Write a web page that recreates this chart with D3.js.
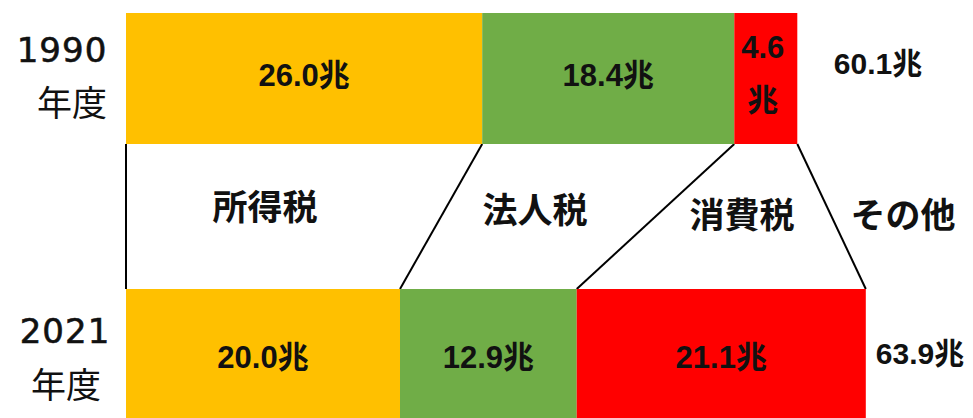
<!DOCTYPE html>
<html><head><meta charset="utf-8">
<script src="https://cdn.jsdelivr.net/npm/d3@7"></script>
<style>html,body{margin:0;padding:0;background:#fff;overflow:hidden}</style>
</head><body><svg id="c" width="973" height="418"></svg>
<script>
const years = ["1990", "2021"];
const yearSuffix = "年度";
const categories = ["所得税", "法人税", "消費税", "その他"];
const values1990 = [26.0, 18.4, 4.6];
const values2021 = [20.0, 12.9, 21.1];
const totals = [60.1, 63.9];
const colors = ["#FFC000", "#70AD47", "#FF0000"];
const unit = "兆";

const svg = d3.select("#c");
const x = d3.scaleLinear().domain([0, 54]).range([126, 865.8]);
const y = d3.scaleBand().domain(years).range([13, 420]).paddingInner(145 / 276).paddingOuter(0);
const bw = y.bandwidth();
const labelShift = [0, 6];

const rows = [values1990, values2021].map((vals, i) => {
  let c = 0;
  const segs = vals.map((v, j) => { const s = {year: years[i], v, x0: c, x1: c + v, j}; c += v; return s; });
  return {year: years[i], segs, total: totals[i], i};
});

const numFont = "'Liberation Sans', Arial, 'Noto Sans CJK JP', sans-serif";
const cjkFont = "'Noto Sans CJK JP', sans-serif";

// connector lines
const bounds = [0, 1, 2, 3].map(k => {
  const b0 = k === 0 ? 0 : rows[0].segs[k - 1].x1;
  const b1 = k === 0 ? 0 : rows[1].segs[k - 1].x1;
  return [b0, b1];
});
svg.selectAll("line.conn").data(bounds).join("line")
  .attr("x1", d => x(d[0])).attr("y1", y(years[0]) + bw)
  .attr("x2", d => x(d[1])).attr("y2", y(years[1]))
  .attr("stroke", "#000").attr("stroke-width", 2);

// bars
rows.forEach(r => {
  const g = svg.append("g");
  g.selectAll("rect").data(r.segs).join("rect")
    .attr("x", d => x(d.x0)).attr("y", y(r.year))
    .attr("width", d => x(d.x1) - x(d.x0)).attr("height", bw)
    .attr("fill", d => colors[d.j]);
  g.selectAll("text").data(r.segs).join("text")
    .attr("text-anchor", "middle")
    .attr("font-family", numFont).attr("font-weight", "bold").attr("font-size", 31)
    .attr("fill", "#111")
    .each(function(d) {
      const t = d3.select(this);
      const cx = (x(d.x0) + x(d.x1)) / 2;
      const cy = y(r.year) + bw / 2 - 4 + labelShift[r.i];
      if (x(d.x1) - x(d.x0) < 90) {
        t.append("tspan").attr("x", cx - 3).attr("y", cy - 17).text(d.v.toFixed(1));
        t.append("tspan").attr("x", cx - 3).attr("y", cy + 36).text(unit);
      } else {
        t.attr("x", cx).attr("y", cy + 11).text(d.v.toFixed(1) + unit);
      }
    });
});

// totals
const totalPos = [[878, 74], [920, 364]];
svg.selectAll("text.total").data(totals).join("text")
  .attr("class", "total")
  .attr("x", (d, i) => totalPos[i][0]).attr("y", (d, i) => totalPos[i][1])
  .attr("text-anchor", "middle")
  .attr("font-family", numFont).attr("font-weight", "bold").attr("font-size", 30)
  .attr("fill", "#111")
  .text(d => d.toFixed(1) + unit);

// year labels
const yearPos = [[62, 62, 72, 116], [65, 343, 66, 398]];
years.forEach((yr, i) => {
  svg.append("text").attr("x", yearPos[i][0]).attr("y", yearPos[i][1])
    .attr("text-anchor", "middle").attr("font-family", "'DejaVu Sans', sans-serif")
    .attr("font-size", 34).attr("letter-spacing", 1).attr("fill", "#111")
    .attr("stroke", "#111").attr("stroke-width", 0.6).text(yr);
  svg.append("text").attr("x", yearPos[i][2]).attr("y", yearPos[i][3])
    .attr("text-anchor", "middle").attr("font-family", cjkFont)
    .attr("font-size", 35).attr("fill", "#111").text(yearSuffix);
});

// category labels
const catPos = [[265, 220], [535, 223], [742, 228], [903, 228]];
svg.selectAll("text.cat").data(categories).join("text")
  .attr("class", "cat")
  .attr("x", (d, i) => catPos[i][0]).attr("y", (d, i) => catPos[i][1])
  .attr("text-anchor", "middle").attr("font-family", cjkFont)
  .attr("font-weight", "bold").attr("font-size", 35).attr("fill", "#111")
  .text(d => d);
</script>
</body></html>
